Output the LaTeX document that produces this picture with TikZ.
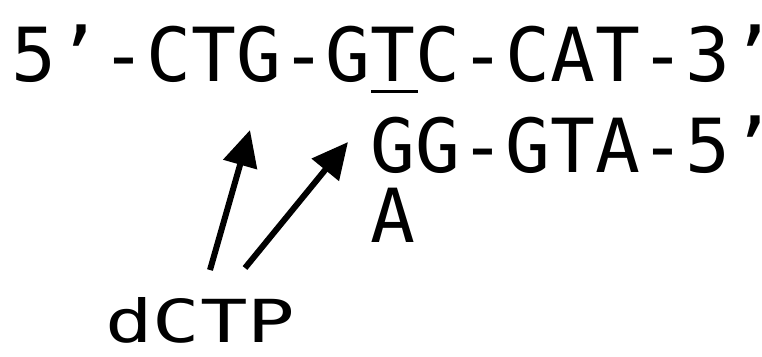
\documentclass[tikz,border=0pt]{standalone}
\usepackage{fontspec}
\setmonofont{DejaVu Sans Mono}
\usetikzlibrary{arrows.meta,calc}
\tikzset{
  seq/.style={inner sep=0pt, outer sep=0pt, anchor=base west,
    font=\fontsize{74.6pt}{80pt}\ttfamily},
  label/.style={inner sep=0pt, outer sep=0pt, anchor=base west,
    font=\fontsize{79pt}{84pt}\ttfamily},
  pointer/.style={line width=6pt, -{Triangle[length=36pt,width=34pt]}},
}
\begin{document}
\begin{tikzpicture}[x=1pt,y=-1pt]
  \useasboundingbox (0,0) rectangle (762,356);
  \def\pitch{44.9}
  % template strand
  \node[seq] (top) at (11.6,81) {5’-CTG-GTC-CAT-3’};
  % underline the templating T (column 8)
  \draw[line width=3pt] ($(top.base west)+(8*\pitch,10.5)$) coordinate (ulA)
    -- ($(top.base west)+(9*\pitch+2,10.5)$) coordinate (ulB);
  % primer strand and the mismatched A
  \node[seq] (primer) at (11.6+8*\pitch,172) {GG-GTA-5’};
  \node[seq] (mis) at (11.6+8*\pitch,242) {A};
  % incoming nucleotide, set wide and short
  \node[label] (dctp) at (105,342) {\scalebox{1}[0.75]{dCTP}};
  \coordinate (tailA) at (210,270);
  \coordinate (tipA)  at (250,130);
  \coordinate (tailB) at (245,268);
  \coordinate (tipB)  at (348,142);
  \draw[pointer] (tailA) -- (tipA);
  \draw[pointer] (tailB) -- (tipB);
\end{tikzpicture}
\end{document}
